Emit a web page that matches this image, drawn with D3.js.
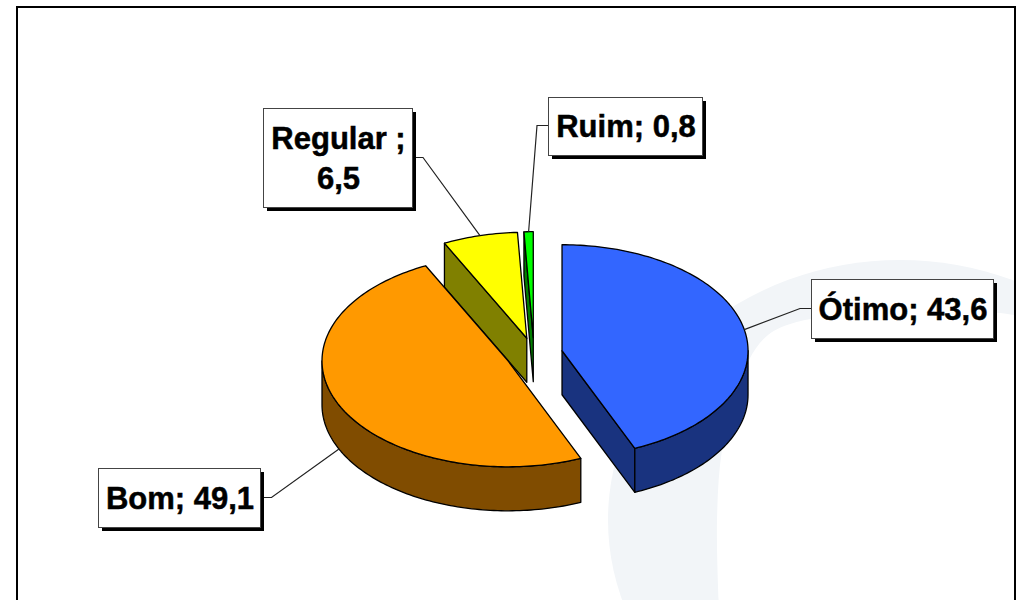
<!DOCTYPE html>
<html><head><meta charset="utf-8">
<style>html,body{margin:0;padding:0;background:#fff}svg{display:block}
text{font-family:"Liberation Sans",Arial,sans-serif;font-weight:bold;fill:#000;stroke:#000;stroke-width:.5px}</style>
<script src="https://cdnjs.cloudflare.com/ajax/libs/d3/7.8.5/d3.min.js"></script>
</head><body>
<svg id="c" width="1018" height="600"></svg>
<script>
const categories = ["Ótimo","Bom","Regular ","Ruim"];
const values = [43.6,49.1,6.5,0.8];
const topColors = ["#3366ff","#ff9900","#ffff00","#00ff00"];
const sideColors = ["#19337f","#804c00","#808000","#007f00"];
const labelLines = [["Ótimo; 43,6"],["Bom; 49,1"],["Regular ;","6,5"],["Ruim; 0,8"]];
const labelBoxes = [[811,279,993,338],[98,468,260,527],[263,108,412,207],[548,97,702,155]];
const leaderBends = [[800,308.5,811],[271.5,497.5,260],[423,157.5,412],[537,125.5,548]];
const leaderOnWallBottom = [false,true,false,false];
const drawOrder = [3,2,0,1];
const watermarkInner = [[719,610],[717,520],[722,450],[738,385],[768,335],[830,315],[900,308],[1000,313],[1030,318]];

const svg = d3.select("#c");
const cx=534, cy=354, rx=186, ry=106, depth=44, explode=28.6;

// pale ring watermark behind the chart
svg.append("ellipse").attr("cx",900).attr("cy",520).attr("rx",292).attr("ry",260).attr("fill","#f2f5f8");
svg.append("path").attr("fill","#fff")
  .attr("d",d3.line().curve(d3.curveCatmullRom)(watermarkInner)+"L1030,610Z");
svg.append("rect").attr("x",1015).attr("y",0).attr("width",3).attr("height",600).attr("fill","#fff");

// frame
svg.append("rect").attr("x",17).attr("y",7).attr("width",998).attr("height",640)
  .attr("fill","none").attr("stroke","#000").attr("stroke-width",2);

const arcs = d3.pie().sort(null).value(d=>d)(values);
const sx=d3.scaleLinear().domain([-1,1]).range([-rx,rx]);
const sy=d3.scaleLinear().domain([-1,1]).range([ry,-ry]);
function centre(a){const m=(a.startAngle+a.endAngle)/2;
  return [cx+explode*Math.sin(m), cy-explode*Math.cos(m)*ry/186];}
function rim(a,t,dy=0){const c=centre(a);return [c[0]+sx(Math.sin(t)),c[1]+sy(Math.cos(t))+dy];}
const line=d3.line();
function samples(s,e){const n=Math.max(2,Math.ceil((e-s)/0.02));return d3.range(n+1).map(i=>s+(e-s)*i/n);}

const g=svg.append("g").attr("stroke","#000").attr("stroke-width",1.3).attr("stroke-linejoin","round");
drawOrder.forEach(i=>{
  const a=arcs[i], c=centre(a);
  const faces=[];
  if(i===0) faces.push(a.endAngle);
  if(i===2||i===3) faces.push(a.startAngle);
  faces.forEach(t=>{
    const p=rim(a,t), q=rim(a,t,depth);
    g.append("path").attr("fill",sideColors[i])
     .attr("d",line([c,p,q,[c[0],c[1]+depth]])+"Z");
  });
  const s=Math.max(a.startAngle,Math.PI/2), e=Math.min(a.endAngle,3*Math.PI/2);
  if(e>s){
    const ts=samples(s,e);
    g.append("path").attr("fill",sideColors[i])
     .attr("d",line(ts.map(t=>rim(a,t)).concat(ts.slice().reverse().map(t=>rim(a,t,depth))))+"Z");
  }
  g.append("path").attr("fill",topColors[i])
   .attr("d",line([c].concat(samples(a.startAngle,a.endAngle).map(t=>rim(a,t))))+"Z");
});

categories.forEach((name,i)=>{
  const a=arcs[i], m=(a.startAngle+a.endAngle)/2;
  const anchor=rim(a,m,leaderOnWallBottom[i]?depth:0);
  const b=leaderBends[i];
  svg.append("path").attr("fill","none").attr("stroke","#222").attr("stroke-width",1.2)
    .attr("d",line([anchor,[b[0],b[1]],[b[2],b[1]]]));
  const [x0,y0,x1,y1]=labelBoxes[i];
  svg.append("rect").attr("x",x0+4).attr("y",y0+4).attr("width",x1-x0).attr("height",y1-y0).attr("fill","#000");
  svg.append("rect").attr("x",x0+.5).attr("y",y0+.5).attr("width",x1-x0).attr("height",y1-y0)
    .attr("fill","#fff").attr("stroke","#444").attr("stroke-width",1);
  const ls=labelLines[i], lh=40, mid=(x0+x1)/2+1, top=(y0+y1)/2-(ls.length-1)*lh/2;
  ls.forEach((t,k)=>svg.append("text").attr("x",mid).attr("y",top+k*lh+11)
    .attr("text-anchor","middle").attr("font-size",31).text(t));
});
</script></body></html>
